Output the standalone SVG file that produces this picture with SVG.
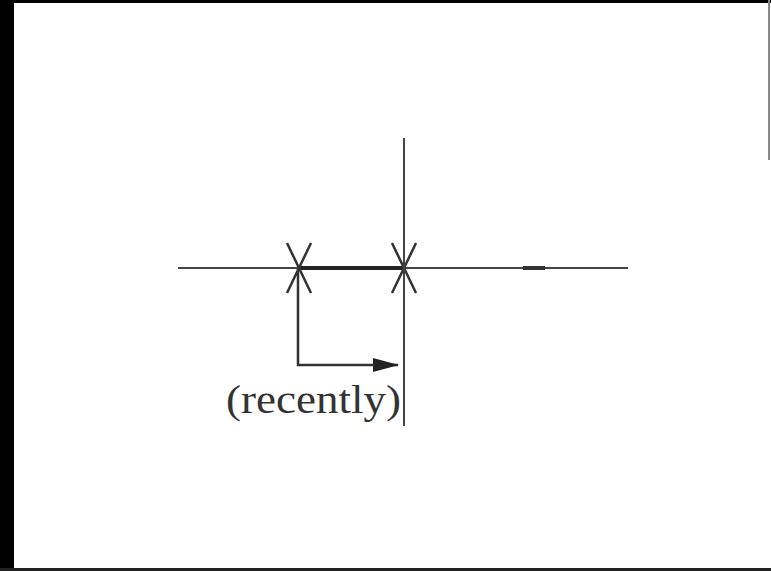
<svg xmlns="http://www.w3.org/2000/svg" width="771" height="571" viewBox="0 0 771 571">
<style>
.ln{stroke:#333;stroke-width:2.5;fill:none}
.thin{stroke:#444;stroke-width:2;fill:none}
.lbl{font-family:"Liberation Serif","Times New Roman",serif;font-size:41px;fill:#333}
</style>
<defs>
<marker id="ah" markerWidth="26" markerHeight="14" refX="25" refY="7" orient="auto" markerUnits="userSpaceOnUse">
<path d="M0,0 L26,7 L0,14 z" fill="#222"/>
</marker>
</defs>
<rect x="0" y="0" width="771" height="571" fill="#fff"/>
<rect x="0" y="0" width="14" height="571" fill="#000"/>
<rect x="0" y="0" width="771" height="3" fill="#000"/>
<rect x="0" y="568" width="771" height="3" fill="#222"/>
<line x1="769" y1="0" x2="769" y2="160" stroke="#888" stroke-width="2"/>
<g id="timeline">
<line class="thin" x1="178" y1="268" x2="628" y2="268" stroke="#555"/>
<line x1="298" y1="268" x2="404" y2="268" stroke="#222" stroke-width="4"/>
<line x1="523" y1="268" x2="545" y2="268" stroke="#333" stroke-width="4"/>
</g>
<g id="mark-left">
<line class="ln" x1="287" y1="243" x2="311" y2="293"/>
<line class="ln" x1="311" y1="243" x2="287" y2="293"/>
</g>
<g id="mark-right">
<line class="ln" x1="392" y1="243" x2="416" y2="293"/>
<line class="ln" x1="416" y1="243" x2="392" y2="293"/>
</g>
<g id="connectors">
<line class="thin" x1="404" y1="138" x2="404" y2="426"/>
<path class="ln" d="M298,268 L298,365 L398,365" marker-end="url(#ah)"/>
</g>
<g id="label">
<text class="lbl" x="226" y="413" textLength="175" lengthAdjust="spacingAndGlyphs">(recently)</text>
</g>
</svg>
